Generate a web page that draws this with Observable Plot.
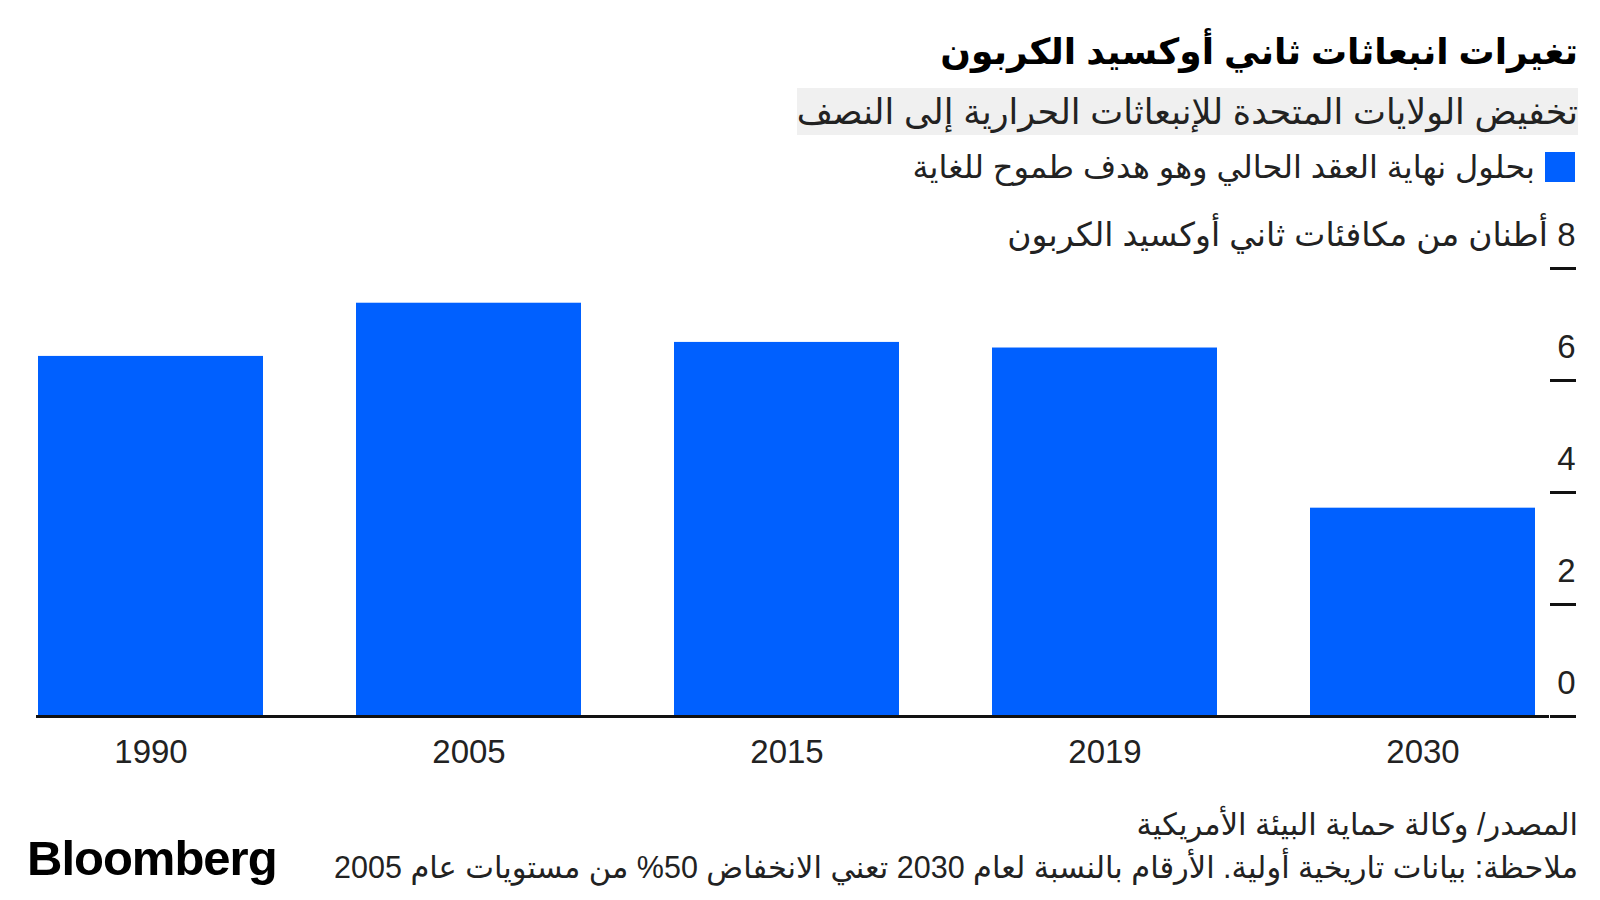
<!DOCTYPE html>
<html><head><meta charset="utf-8">
<script src="https://cdn.jsdelivr.net/npm/d3@7"></script>
<script src="https://cdn.jsdelivr.net/npm/@observablehq/plot@0.6"></script>
<style>
html,body{margin:0;padding:0;background:#fff}
body{width:1600px;height:900px;position:relative;overflow:hidden;font-family:"Liberation Sans","DejaVu Sans",sans-serif;color:#222}
.t{position:absolute;white-space:nowrap;direction:rtl}
#title{right:22px;top:27px;line-height:50px;font-size:36px;font-weight:bold;color:#000}
#subtitle{right:22px;top:88px;line-height:47px;height:47px;font-size:35px;background:#f0f0f0;color:#222}
#legend{right:25px;top:152px;line-height:30px;font-size:32px;display:flex;align-items:center;gap:10px}
#legend .sw{width:30px;height:30px;background:#0060ff;display:inline-block;flex:none}
#chart{position:absolute;left:0;top:200px}
#source{right:22px;top:807px;line-height:34px;font-size:30.5px}
#note{right:22px;top:850px;line-height:34px;font-size:30.5px}
#logo{position:absolute;left:27px;top:831px;line-height:54px;font-size:49px;font-weight:bold;color:#000;letter-spacing:-1px;font-family:"Liberation Sans",Arial,sans-serif}
</style>
</head><body>
<div id="title" class="t"></div>
<div id="subtitle" class="t"></div>
<div id="legend" class="t"><span class="sw"></span><span id="legtext"></span></div>
<div id="chart"></div>
<div id="source" class="t"></div>
<div id="note" class="t"></div>
<div id="logo">Bloomberg</div>
<script>
const titleText = "تغيرات انبعاثات ثاني أوكسيد الكربون";
const subtitleText = "تخفيض الولايات المتحدة للإنبعاثات الحرارية إلى النصف";
const legendText = "بحلول نهاية العقد الحالي وهو هدف طموح للغاية";
const axisTitle = "أطنان من مكافئات ثاني أوكسيد الكربون";
const sourceText = "المصدر/ وكالة حماية البيئة الأمريكية";
const noteText = "ملاحظة: بيانات تاريخية أولية. الأرقام بالنسبة لعام 2030 تعني الانخفاض 50% من مستويات عام 2005";

const years = ["1990", "2005", "2015", "2019", "2030"];
const emissions = [6.43, 7.38, 6.68, 6.58, 3.72];
const yTicks = [0, 2, 4, 6, 8];

document.getElementById("title").textContent = titleText;
document.getElementById("subtitle").textContent = subtitleText;
document.getElementById("legtext").textContent = legendText;
document.getElementById("source").textContent = sourceText;
document.getElementById("note").textContent = noteText;

const data = years.map((y, i) => ({year: y, value: emissions[i]}));

const chart = Plot.plot({
  width: 1600,
  height: 580,
  marginLeft: 36,
  marginRight: 51,
  marginTop: 68,
  marginBottom: 64,
  style: {fontFamily: '"Liberation Sans","DejaVu Sans",sans-serif', color: "#222", background: "transparent"},
  x: {domain: years, range: [36.5, 1536], paddingInner: 0.294, paddingOuter: 0},
  y: {domain: [0, 8]},
  marks: [
    Plot.barY(data, {x: "year", y: "value", fill: "#0060ff"}),
    Plot.ruleY([0], {stroke: "#111", strokeWidth: 3}),
    // tick marks only
    Plot.axisY(yTicks, {
      anchor: "right", tickSize: 26, strokeWidth: 3, stroke: "#111",
      tickFormat: () => "", label: null
    }),
    // tick labels, placed above their ticks
    Plot.axisY(yTicks, {
      anchor: "right", tickSize: 0, tickPadding: 26,
      textAnchor: "end", lineAnchor: "middle", dy: -33, fontSize: 33, fill: "#222",
      tickFormat: d => d === 8 ? "\u202B8 " + axisTitle + "\u202C" : String(d),
      label: null
    }),
    Plot.axisX({tickSize: 0, tickPadding: 23, fontSize: 33, fill: "#222", label: null})
  ]
});
document.getElementById("chart").appendChild(chart);
</script>
</body></html>
